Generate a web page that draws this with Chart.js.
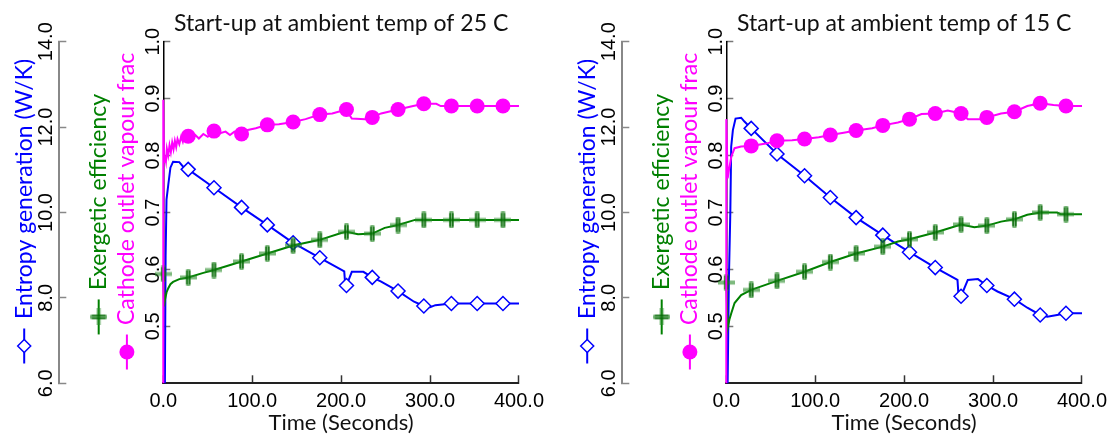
<!DOCTYPE html>
<html>
<head>
<meta charset="utf-8">
<title>Start-up at ambient temp</title>
<script src="https://cdn.jsdelivr.net/npm/chart.js@4.4.1/dist/chart.umd.min.js"></script>
<style>
  html, body { margin: 0; padding: 0; background: #fff; overflow: hidden; }
  body { width: 1116px; height: 439px; position: relative; }
  .panel { position: absolute; top: 0; width: 558px; height: 439px; }
  #p25 { left: 0; }
  #p15 { left: 563px; }
</style>
</head>
<body>
<div class="panel" id="p25"><canvas id="c25"></canvas></div>
<div class="panel" id="p15"><canvas id="c15"></canvas></div>
<script>
// times (s) where the series carry a marker
var markTimes = [28, 57, 88, 117, 146, 176, 206, 235, 264, 293, 324, 353, 382];
var xTicks = [0, 100, 200, 300, 400];

// ambient 25 C
var entT25 = [1.8, 2.6, 3.6, 5.6, 8, 11, 18, 22, 28, 57, 88, 117, 146, 176, 201, 203.5, 204.5, 206, 212, 225, 235, 245, 264, 282, 293, 300, 306, 324, 353, 382, 400];
var ent25 = [6.0, 9.0, 10.3, 10.65, 11.05, 11.19, 11.18, 11.08, 11.01, 10.58, 10.12, 9.71, 9.29, 8.94, 8.65, 8.62, 8.33, 8.29, 8.61, 8.61, 8.48, 8.38, 8.16, 7.91, 7.81, 7.78, 7.83, 7.87, 7.87, 7.87, 7.87];
var exT25 = [0, 0.8, 2, 3.7, 5.6, 8, 11, 18, 28, 45, 57, 88, 117, 146, 176, 200, 206, 219, 235, 249, 264, 283, 293, 324, 353, 382, 400];
var ex25 = [0.592, 0.535, 0.548, 0.560, 0.567, 0.574, 0.578, 0.583, 0.586, 0.594, 0.599, 0.614, 0.628, 0.642, 0.652, 0.664, 0.666, 0.662, 0.663, 0.673, 0.678, 0.687, 0.687, 0.687, 0.687, 0.687, 0.687];
var vapT25 = [0, 0, 0.8, 1.9, 3, 4, 5.5, 7, 8.5, 10, 11.5, 13, 14.5, 16, 18, 20, 22, 24, 28, 32, 36, 40, 45, 50, 57, 63, 70, 75, 80, 88, 95, 104, 117, 130, 146, 160, 176, 190, 206, 210, 212, 227, 235, 245, 264, 281, 293, 307, 312, 324, 353, 382, 400];
var vap25 = [0.400, 0.898, 0.789, 0.800, 0.790, 0.812, 0.800, 0.818, 0.806, 0.823, 0.811, 0.826, 0.815, 0.829, 0.820, 0.833, 0.824, 0.836, 0.834, 0.828, 0.836, 0.830, 0.838, 0.833, 0.843, 0.839, 0.842, 0.836, 0.842, 0.838, 0.845, 0.848, 0.854, 0.855, 0.859, 0.864, 0.872, 0.874, 0.881, 0.870, 0.865, 0.864, 0.867, 0.874, 0.881, 0.887, 0.891, 0.891, 0.887, 0.887, 0.887, 0.887, 0.887];

// ambient 15 C
var entT15 = [1.5, 2.9, 4.5, 5.5, 7.4, 10.4, 16.7, 20.4, 28, 57, 88, 117, 146, 176, 193, 206, 235, 260, 261, 264, 271.6, 283, 293, 305, 324, 338.5, 353, 361, 372, 382, 400];
var ent15 = [6.0, 8.42, 9.98, 11.54, 11.93, 12.2, 12.22, 12.13, 11.97, 11.37, 10.86, 10.35, 9.88, 9.47, 9.24, 9.07, 8.71, 8.42, 8.1, 8.04, 8.42, 8.44, 8.29, 8.15, 7.97, 7.77, 7.60, 7.56, 7.60, 7.64, 7.64];
var exT15 = [0, 1.5, 3.5, 5.6, 9.3, 16.7, 28, 57, 88, 117, 146, 176, 193, 206, 235, 264, 279, 293, 309, 324, 338.5, 353, 372, 376, 382, 400];
var ex15 = [0.577, 0.497, 0.512, 0.523, 0.541, 0.555, 0.564, 0.580, 0.596, 0.613, 0.628, 0.640, 0.649, 0.653, 0.665, 0.679, 0.674, 0.677, 0.684, 0.688, 0.696, 0.700, 0.700, 0.697, 0.697, 0.697];
var vapT15 = [0, 0, 1.5, 3, 5.6, 9.3, 16.7, 28, 44.6, 57, 74, 88, 104, 117, 132, 146, 164, 176, 193, 206, 219.5, 235, 249, 264, 271.6, 286, 293, 309, 324, 338.5, 353, 368, 382, 400];
var vap15 = [0.400, 0.864, 0.760, 0.775, 0.798, 0.813, 0.816, 0.817, 0.821, 0.826, 0.827, 0.829, 0.832, 0.836, 0.840, 0.844, 0.848, 0.853, 0.858, 0.864, 0.873, 0.874, 0.879, 0.874, 0.864, 0.864, 0.867, 0.874, 0.877, 0.887, 0.892, 0.889, 0.887, 0.887];

var BLUE = '#0000ff', GREEN = '#008000', MAGENTA = '#ff00ff';
var TITLE_FONT = 'Lato', TITLE_PX = 23;
var tickFont = { family: 'Liberation Sans', size: 20, lineHeight: 1.2 };

function pts(t, v) {
    return t.map(function (x, i) { return { x: x, y: v[i] }; });
}

// leading blanks so the rotated axis titles leave room for the legend glyph
var measureCtx = document.createElement('canvas').getContext('2d');
measureCtx.font = TITLE_PX + 'px ' + TITLE_FONT;
function padTo(px) {
    var s = '';
    while (measureCtx.measureText(s).width < px) s += ' ';
    return s;
}

// green cross marker
function makePlus() {
    var c = document.createElement('canvas');
    c.width = 17; c.height = 17;
    var g = c.getContext('2d');
    g.fillStyle = 'rgba(40,140,40,0.6)';
    g.fillRect(0, 6.5, 17, 4);
    g.fillRect(6.5, 0, 4, 17);
    g.fillStyle = '#006400';
    g.fillRect(6.4, 1.5, 1.4, 14);
    g.fillRect(9.2, 1.5, 1.4, 14);
    return c;
}
var plusImg = makePlus();

var axisMarks = {
    yEnt: { kind: 'diamond', color: BLUE, padTop: 12.7, lead: padTo(43) },
    yEx: { kind: 'plus', color: GREEN, padTop: 27.9, lead: padTo(38) },
    yFrac: { kind: 'dot', color: MAGENTA, padTop: 2.1, lead: padTo(43) }
};

// legend glyphs drawn under each rotated axis title
var markPlugin = {
    id: 'axisMarks',
    afterDraw: function (chart) {
        var ctx = chart.ctx;
        Object.keys(axisMarks).forEach(function (id) {
            var s = chart.scales[id];
            var m = axisMarks[id];
            ctx.save();
            ctx.font = TITLE_PX + 'px ' + TITLE_FONT;
            var full = ctx.measureText(s.options.title.text).width;
            var lead = ctx.measureText(m.lead).width;
            var x = s.left + m.padTop + TITLE_PX / 2;
            var y = (s.top + s.bottom) / 2 + full / 2 - lead + 27;
            ctx.strokeStyle = m.color;
            ctx.lineWidth = 2;
            ctx.beginPath();
            ctx.moveTo(x, y - 17.5);
            ctx.lineTo(x, y + 17.5);
            ctx.stroke();
            if (m.kind === 'diamond') {
                ctx.beginPath();
                ctx.moveTo(x, y - 6.5);
                ctx.lineTo(x + 6.5, y);
                ctx.lineTo(x, y + 6.5);
                ctx.lineTo(x - 6.5, y);
                ctx.closePath();
                ctx.fillStyle = '#fff';
                ctx.fill();
                ctx.lineWidth = 1.5;
                ctx.stroke();
            } else if (m.kind === 'dot') {
                ctx.beginPath();
                ctx.arc(x, y, 7.5, 0, Math.PI * 2);
                ctx.fillStyle = m.color;
                ctx.fill();
            } else {
                ctx.translate(x, y);
                ctx.rotate(-Math.PI / 2);
                ctx.drawImage(plusImg, -plusImg.width / 2, -plusImg.height / 2);
            }
            ctx.restore();
        });
    }
};

function markRadius(times, r) {
    return function (c) {
        return c.raw && times.indexOf(c.raw.x) >= 0 ? r : 0;
    };
}

function axisTitle(text, color, id) {
    return {
        display: true,
        text: axisMarks[id].lead + text,
        color: color,
        font: { family: TITLE_FONT, size: TITLE_PX, lineHeight: 1 },
        padding: { top: axisMarks[id].padTop, bottom: 0 }
    };
}

function makeChart(id, title, ent, ex, vap) {
    var ctx = document.getElementById(id);
    return new Chart(ctx, {
        type: 'line',
        data: {
            datasets: [{
                label: 'Cathode outlet vapour frac',
                data: vap,
                yAxisID: 'yFrac',
                borderColor: MAGENTA,
                backgroundColor: MAGENTA,
                borderWidth: 2,
                pointStyle: 'circle',
                pointRadius: markRadius(markTimes, 7.5),
                pointBorderWidth: 0,
                clip: false
            }, {
                label: 'Exergetic efficiency',
                data: ex,
                yAxisID: 'yEx',
                borderColor: GREEN,
                backgroundColor: GREEN,
                borderWidth: 2,
                pointStyle: plusImg,
                pointRadius: markRadius([0].concat(markTimes), 8),
                clip: false
            }, {
                label: 'Entropy generation (W/K)',
                data: ent,
                yAxisID: 'yEnt',
                borderColor: BLUE,
                backgroundColor: '#fff',
                borderWidth: 2,
                pointStyle: 'rectRot',
                pointRadius: markRadius(markTimes, 7),
                pointBorderWidth: 1.5,
                clip: false
            }]
        },
        options: {
            responsive: true,
            maintainAspectRatio: false,
            animation: false,
            layout: { padding: { left: 0, top: 0, bottom: 0, right: 36.3 } },
            plugins: {
                legend: { display: false },
                tooltip: { enabled: false },
                title: {
                    display: true,
                    text: title,
                    fullSize: false,
                    color: '#111',
                    font: { family: TITLE_FONT, size: 23, lineHeight: 1, weight: 'normal' },
                    padding: { top: 12.3, bottom: 6.4 }
                }
            },
            scales: {
                x: {
                    type: 'linear',
                    min: 0,
                    max: 400,
                    afterBuildTicks: function (s) { s.ticks = xTicks.map(function (v) { return { value: v }; }); },
                    ticks: {
                        callback: function (v) { return v.toFixed(1); },
                        font: tickFont, color: '#000', padding: 14, maxRotation: 0, autoSkip: false
                    },
                    grid: { drawOnChartArea: false, tickLength: -8, tickColor: '#333', tickWidth: 1.5 },
                    border: { color: '#222', width: 2 },
                    title: {
                        display: true, text: 'Time (Seconds)', color: '#111',
                        font: { family: TITLE_FONT, size: 22, lineHeight: 1 },
                        padding: { top: 0, bottom: 4.8 }
                    },
                    afterFit: function (s) { s.height = 55.7; }
                },
                yFrac: {
                    position: 'left', weight: 1, min: 0.4, max: 1.0,
                    ticks: {
                        stepSize: 0.1,
                        callback: function (v) { return v < 0.45 ? null : v.toFixed(1); },
                        minRotation: 90, maxRotation: 90, crossAlign: 'center', padding: 3,
                        font: tickFont, color: '#000', autoSkip: false
                    },
                    grid: { drawOnChartArea: false, tickLength: -7, tickColor: '#777', tickWidth: 1.5 },
                    border: { color: '#000', width: 1.5 },
                    title: axisTitle('Cathode outlet vapour frac', MAGENTA, 'yFrac'),
                    afterFit: function (s) { s.width = 50; }
                },
                yEx: {
                    position: 'left', weight: 2, min: 0.4, max: 1.0,
                    ticks: { display: false },
                    grid: { display: false },
                    border: { display: false },
                    title: axisTitle('Exergetic efficiency', GREEN, 'yEx'),
                    afterFit: function (s) { s.width = 54; }
                },
                yEnt: {
                    position: 'left', weight: 3, min: 6, max: 14,
                    ticks: {
                        stepSize: 2,
                        callback: function (v) { return v.toFixed(1); },
                        minRotation: 90, maxRotation: 90, crossAlign: 'center', padding: 0,
                        font: tickFont, color: '#000', autoSkip: false
                    },
                    grid: { drawOnChartArea: false, tickLength: -7, tickColor: '#888', tickWidth: 1.5 },
                    border: { color: '#888', width: 2 },
                    title: axisTitle('Entropy generation (W/K)', BLUE, 'yEnt'),
                    afterFit: function (s) { s.width = 59.3; }
                }
            }
        },
        plugins: [markPlugin]
    });
}

makeChart('c25', 'Start-up at ambient temp of 25 C', pts(entT25, ent25), pts(exT25, ex25), pts(vapT25, vap25));
makeChart('c15', 'Start-up at ambient temp of 15 C', pts(entT15, ent15), pts(exT15, ex15), pts(vapT15, vap15));
</script>
</body>
</html>
